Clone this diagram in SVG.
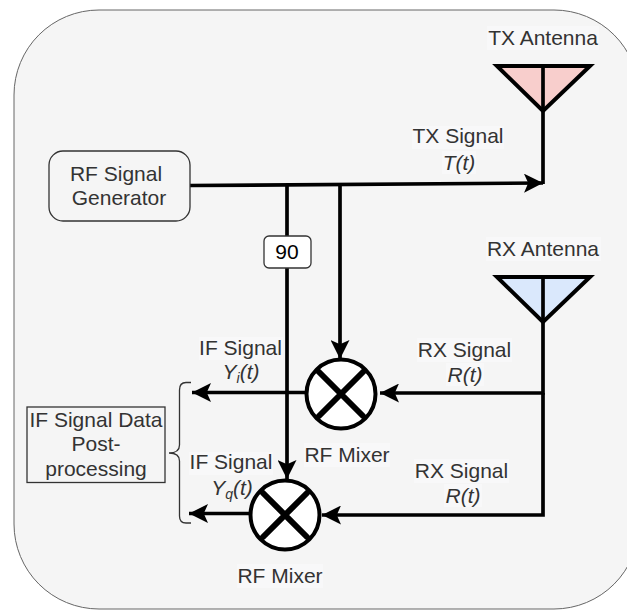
<svg xmlns="http://www.w3.org/2000/svg" width="627" height="610" viewBox="0 0 627 610">
<style>
text{font-family:"Liberation Sans",Arial,sans-serif;font-size:21px;fill:#333;text-anchor:middle}
.i{font-style:italic}
.s{font-size:14px}
.w{stroke:#000;stroke-width:3.700;fill:none}
.lb{fill:#f8f8f9}
.mx{fill:#fff;stroke:#000;stroke-width:4}
.xx{stroke:#000;stroke-width:6;fill:none;stroke-linecap:round}
</style>
<defs>
<marker id="a" markerUnits="userSpaceOnUse" markerWidth="19" markerHeight="19" refX="18" refY="9" orient="auto" viewBox="0 0 18 18"><path d="M0 0L18 9L0 18L4 9Z" fill="#000"/></marker>
</defs>
<rect id="background" x="14" y="10" width="625" height="599" rx="85" ry="85" fill="#f5f5f5" stroke="#666" stroke-width="1"/>
<g id="connectors">
<path class="w" d="M190 185.500L543 183" marker-end="url(#a)"/>
<path class="w" d="M543 66V184"/>
<path class="w" d="M287 185V237"/>
<path class="w" d="M287 268V479" marker-end="url(#a)"/>
<path class="w" d="M340 185V359" marker-end="url(#a)"/>
<path class="w" d="M543 277V393H380" marker-end="url(#a)"/>
<path class="w" d="M543 393V515H322" marker-end="url(#a)"/>
<path class="w" d="M305 392.500H192" marker-end="url(#a)"/>
<path class="w" d="M250 513.500H189" marker-end="url(#a)"/>
</g>
<g id="tx-antenna">
<path d="M497 66H590L543 111Z" fill="#f8cecc" stroke="#000" stroke-width="4"/>
<path class="w" d="M543 66V111"/>
<rect class="lb" x="487" y="26" width="112" height="24"/>
<text x="543" y="45">TX Antenna</text>
</g>
<g id="rx-antenna">
<path d="M497 277H590L543 322Z" fill="#dae8fc" stroke="#000" stroke-width="4"/>
<path class="w" d="M543 277V322"/>
<rect class="lb" x="486" y="237" width="115" height="24"/>
<text x="543" y="256">RX Antenna</text>
</g>
<g id="rf-generator">
<rect x="49" y="151" width="141" height="70" rx="14" fill="#f5f5f5" stroke="#333" stroke-width="1.300"/>
<text x="116" y="181">RF Signal</text>
<text x="119" y="205">Generator</text>
</g>
<g id="phase-90">
<rect x="264" y="236" width="47" height="32" rx="5" fill="#fff" stroke="#333" stroke-width="1.300"/>
<text x="287" y="259" style="fill:#000">90</text>
</g>
<g id="mixer-1">
<circle class="mx" cx="341" cy="394" r="34.500"/>
<path class="xx" d="M319 372L363 416M363 372L319 416"/>
<rect class="lb" x="304" y="443" width="86" height="24"/>
<text x="347" y="462">RF Mixer</text>
</g>
<g id="mixer-2">
<circle class="mx" cx="285" cy="515" r="34.500"/>
<path class="xx" d="M263 493L307 537M307 493L263 537"/>
<rect class="lb" x="237" y="564" width="86" height="24"/>
<text x="280" y="583">RF Mixer</text>
</g>
<g id="post-processing">
<rect x="27" y="407" width="138" height="75.500" fill="#f5f5f5" stroke="#333" stroke-width="1.300"/>
<text x="96" y="427">IF Signal Data</text>
<text x="96" y="451">Post-</text>
<text x="96" y="476">processing</text>
<path d="M191 382.500H186Q179.500 382.500 179.500 390V445Q179.500 453 169 453Q179.500 453 179.500 461V516Q179.500 523 186 523H191" fill="none" stroke="#333" stroke-width="1.300"/>
</g>
<g id="labels">
<rect class="lb" x="412" y="126" width="92" height="23"/>
<text x="458" y="143">TX Signal</text>
<rect class="lb" x="442" y="151" width="34" height="23"/>
<text class="i" x="459" y="170">T(t)</text>
<rect class="lb" x="199" y="337" width="84" height="23"/>
<text x="240.500" y="355">IF Signal</text>
<text class="i" x="241" y="379">Y<tspan class="s" dy="4">i</tspan><tspan dy="-4">(t)</tspan></text>
<rect class="lb" x="189" y="452" width="84" height="23"/>
<text x="231" y="469">IF Signal</text>
<text class="i" x="232" y="495">Y<tspan class="s" dy="4">q</tspan><tspan dy="-4">(t)</tspan></text>
<rect class="lb" x="417" y="338" width="95" height="24"/>
<text x="464.500" y="357">RX Signal</text>
<rect class="lb" x="446" y="363" width="38" height="23"/>
<text class="i" x="465" y="382">R(t)</text>
<rect class="lb" x="414" y="459" width="95" height="24"/>
<text x="461.500" y="478">RX Signal</text>
<rect class="lb" x="444" y="484" width="38" height="23"/>
<text class="i" x="463" y="503">R(t)</text>
</g>
</svg>
